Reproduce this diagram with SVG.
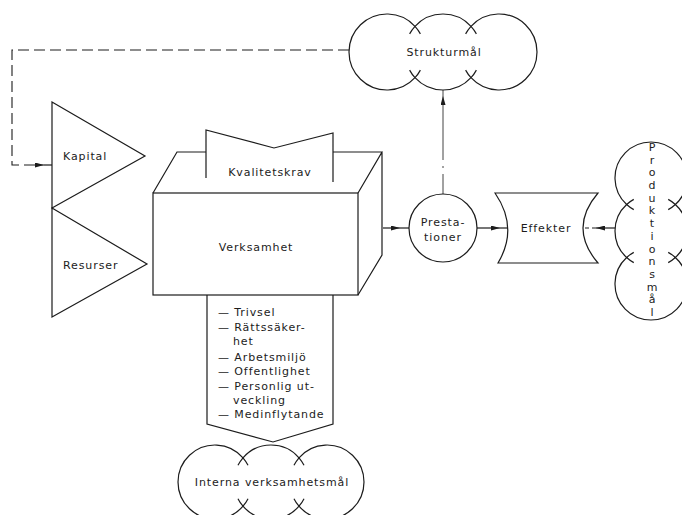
<svg xmlns="http://www.w3.org/2000/svg" width="682" height="515" viewBox="0 0 682 515">
<style>
.ln{fill:none;stroke:#1c1c1c;stroke-width:1.2;stroke-linejoin:miter}
.sh{fill:#fff;stroke:#1c1c1c;stroke-width:1.2}
.dash{fill:none;stroke:#1c1c1c;stroke-width:1.1;stroke-dasharray:11 5}
.dd{fill:none;stroke:#444;stroke-width:1;stroke-dasharray:20 6 2 6 200 0}
.sd{fill:none;stroke:#1c1c1c;stroke-width:1.1;stroke-dasharray:4 3}
text{font-family:"DejaVu Sans","Liberation Sans",sans-serif;font-size:11px;fill:#1c1c1c;letter-spacing:0.9px}
.c{text-anchor:middle}
</style>
<defs>
<marker id="arr" viewBox="0 0 9 5" refX="9" refY="2.5" markerWidth="9" markerHeight="5" markerUnits="userSpaceOnUse" orient="auto">
<path d="M0,0 L9,2.5 L0,5 Z" fill="#1c1c1c"/>
</marker>
</defs>
<rect width="682" height="515" fill="#fff"/>

<g id="connectors">
<path class="dash" d="M349,50 H12 V165 H44" marker-end="url(#arr)"/>
<path class="ln" d="M44,165 H52"/>
<path class="ln" d="M383,228 H400 H409" marker-mid="url(#arr)"/>
<path class="ln" d="M477,228 H500 H508" marker-mid="url(#arr)"/>
<path class="ln" d="M615,228 H596" marker-end="url(#arr)"/>
<path class="sd" d="M596,228 H584"/>
<path class="dd" d="M443,194 V96" marker-end="url(#arr)"/>
<path class="ln" d="M443,96 V90" style="stroke:#444;stroke-width:1"/>
</g>

<g id="strukturmal">
<path class="ln" d="M415,26.31 A38,38 0 1 0 415,77.69 A38,38 0 0 0 471,77.69 A38,38 0 1 0 471,26.31 A38,38 0 0 0 415,26.31 Z"/>
<path class="ln" d="M415,26.31 A38,38 0 0 1 420.39,33.87 M415,26.31 A38,38 0 0 0 409.61,33.87 M415,77.69 A38,38 0 0 0 420.39,70.13 M415,77.69 A38,38 0 0 1 409.61,70.13 M471,26.31 A38,38 0 0 1 476.39,33.87 M471,26.31 A38,38 0 0 0 465.61,33.87 M471,77.69 A38,38 0 0 0 476.39,70.13 M471,77.69 A38,38 0 0 1 465.61,70.13"/>
<text class="c" x="444" y="56">Strukturmål</text>
</g>

<g id="kapital">
<polygon class="sh" points="52,102 145,156 52,208"/>
<text x="63" y="160">Kapital</text>
</g>

<g id="resurser">
<polygon class="sh" points="52,208 147,264 52,317"/>
<text x="63" y="269">Resurser</text>
</g>

<g id="verksamhet">
<rect class="ln" x="153" y="193" width="205" height="102"/>
<path class="ln" d="M153,193 L177,152 H206 M333,152 H382 L358,193 M382,152 V255 L358,295"/>
<text class="c" x="256" y="251">Verksamhet</text>
</g>

<g id="kvalitetskrav">
<path class="ln" d="M206,178 V130 L274,148 L333,133 V182"/>
<text class="c" x="270" y="176">Kvalitetskrav</text>
</g>

<g id="interna-lista">
<path class="ln" d="M207,295 V424 L273,442 L333,424 V295"/>
<text x="218" y="316">— Trivsel</text>
<text x="218" y="331">— Rättssäker-</text>
<text x="233" y="345">het</text>
<text x="218" y="361">— Arbetsmiljö</text>
<text x="218" y="375">— Offentlighet</text>
<text x="218" y="390">— Personlig ut-</text>
<text x="233" y="404">veckling</text>
<text x="218" y="418">— Medinflytande</text>
</g>

<g id="interna-mal">
<path class="ln" d="M243,457.81 A37,37 0 1 0 243,506.19 A37,37 0 0 0 299,506.19 A37,37 0 1 0 299,457.81 A37,37 0 0 0 243,457.81 Z"/>
<path class="ln" d="M243,457.81 A37,37 0 0 1 248.03,465.32 M243,457.81 A37,37 0 0 0 237.97,465.32 M243,506.19 A37,37 0 0 0 248.03,498.68 M243,506.19 A37,37 0 0 1 237.97,498.68 M299,457.81 A37,37 0 0 1 304.03,465.32 M299,457.81 A37,37 0 0 0 293.97,465.32 M299,506.19 A37,37 0 0 0 304.03,498.68 M299,506.19 A37,37 0 0 1 293.97,498.68"/>
<text class="c" x="272" y="486">Interna verksamhetsmål</text>
</g>

<g id="prestationer">
<circle class="sh" cx="443" cy="228" r="34"/>
<text class="c" x="443" y="226">Presta-</text>
<text class="c" x="443" y="241">tioner</text>
</g>

<g id="effekter">
<path class="sh" d="M495,193 H598 Q568,228 598,263 H498 Q519,228 495,193 Z"/>
<text class="c" x="546" y="232">Effekter</text>
</g>

<g id="produktionsmal">
<path class="ln" d="M626.63,204.5 A36,36 0 1 1 675.37,204.5 A36,36 0 0 1 675.37,257.5 A36,36 0 1 1 626.63,257.5 A36,36 0 0 1 626.63,204.5 Z"/>
<path class="ln" d="M626.63,204.5 A36,36 0 0 0 633.77,209.61 M626.63,204.5 A36,36 0 0 1 633.77,199.39 M675.37,204.5 A36,36 0 0 1 668.23,209.61 M675.37,204.5 A36,36 0 0 0 668.23,199.39 M626.63,257.5 A36,36 0 0 0 633.77,262.61 M626.63,257.5 A36,36 0 0 1 633.77,252.39 M675.37,257.5 A36,36 0 0 1 668.23,262.61 M675.37,257.5 A36,36 0 0 0 668.23,252.39"/>
<text class="c" style="letter-spacing:0" x="652" y="151">P<tspan x="652" y="164">r</tspan><tspan x="652" y="176">o</tspan><tspan x="652" y="189">d</tspan><tspan x="652" y="202">u</tspan><tspan x="652" y="214">k</tspan><tspan x="652" y="227">t</tspan><tspan x="652" y="240">i</tspan><tspan x="652" y="253">o</tspan><tspan x="652" y="265">n</tspan><tspan x="652" y="278">s</tspan><tspan x="652" y="291">m</tspan><tspan x="652" y="303">å</tspan><tspan x="652" y="316">l</tspan></text>
</g>
</svg>
